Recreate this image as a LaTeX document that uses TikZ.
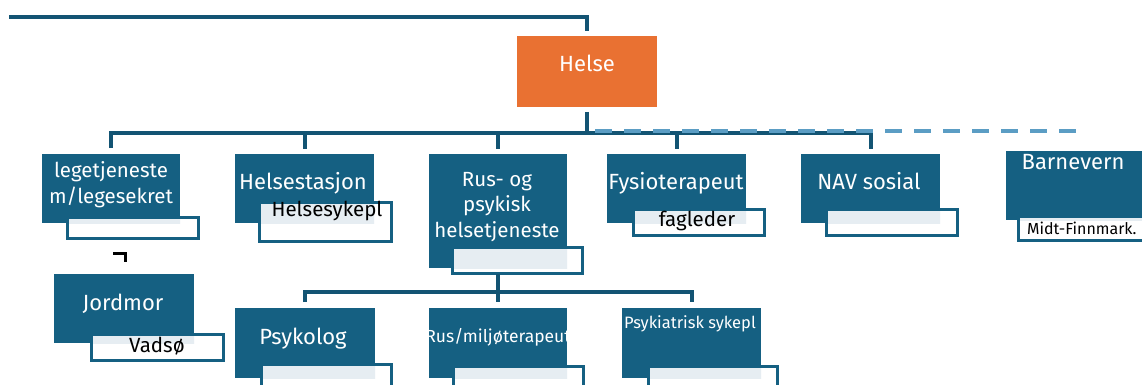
\documentclass[tikz,border=0pt]{standalone}
\usepackage{fontspec}
\setmainfont{Fira Sans}
\definecolor{boxblue}{HTML}{156082}
\definecolor{lineblue}{HTML}{135473}
\definecolor{orangebox}{HTML}{E97132}
\definecolor{dashblue}{HTML}{5B9DC4}
\definecolor{lightfill}{HTML}{E6EDF2}
\tikzset{
  mainbox/.style={fill=boxblue, inner sep=0pt, outer sep=0pt, anchor=north west},
  subbox/.style={fill=white, draw=boxblue, line width=3pt, inner sep=0pt, outer sep=0pt, anchor=north west},
  conn/.style={draw=lineblue, line width=4pt},
  dashline/.style={draw=dashblue, line width=4pt, dash pattern=on 17pt off 12pt},
  wlabel/.style={text=white, font=\fontsize{22}{25.5}\selectfont, align=center, inner sep=0pt, anchor=base},
  mlabel/.style={wlabel, font=\fontsize{20.5}{25.5}\selectfont},
  blabel/.style={text=black, font=\fontsize{20.5}{24}\selectfont, inner sep=0pt, anchor=base},
}
% name, x1, y1, x2, y2, sx1, sy1, sx2, sy2
\newcommand{\orgunit}[9]{%
  \node[mainbox, minimum width={(#4-#2)*1pt}, minimum height={(#5-#3)*1pt}] (#1) at (#2,#3) {};
  \node[subbox, minimum width={(#8-#6-3)*1pt}, minimum height={(#9-#7-3)*1pt}] (#1-s) at (#6+1.5,#7+1.5) {};
  \begin{scope}
    \clip (#1.north west) rectangle (#1.south east);
    \fill[lightfill] ([shift={(1.5pt,-1.5pt)}]#1-s.north west) rectangle ([shift={(-1.5pt,1.5pt)}]#1-s.south east);
  \end{scope}
}
\begin{document}
\begin{tikzpicture}[x=1pt, y=-1pt]
\useasboundingbox (0,0) rectangle (1142,385);
\clip (0,0) rectangle (1142,385);
\fill[white] (0,0) rectangle (1142,385);

% top box
\node[mainbox, fill=orangebox, minimum width=140pt, minimum height=71pt] (helse) at (517,36) {};
\node[wlabel] (helse-t) at (587,72) {Helse};

% units
\orgunit{lege}{42}{154}{180}{223}{66}{216}{200}{240}
\orgunit{jord}{54}{274}{194}{343}{90}{333}{225}{362}
\orgunit{hs}{235}{154}{374}{223}{258}{201}{393}{243}
\orgunit{rus}{429}{154}{567}{268}{451}{246}{584}{275}
\orgunit{fys}{607}{154}{746}{223}{632}{208}{766}{237}
\orgunit{nav}{801}{154}{940}{223}{825}{208}{959}{237}
\orgunit{barn}{1006}{151}{1160}{220}{1017}{215}{1160}{242}
\orgunit{psy}{235}{308}{375}{378}{260}{363}{393}{395}
\orgunit{rmt}{429}{308}{567}{378}{452}{365}{585}{395}
\orgunit{psk}{622}{308}{761}{378}{647}{365}{779}{395}

% connectors
\coordinate (tl) at (9,17);
\coordinate (bus) at (0,133);
\coordinate (bus2) at (0,292);
\coordinate (dashend) at (1078,131);
\draw[conn] (tl) -| ([yshift=5pt]helse.north);
\draw[conn] ([yshift=-5pt]helse.south) -- (helse.south |- bus);
\draw[conn] ([yshift=6pt]lege.north) |- (nav.north |- bus) -- ([yshift=5pt]nav.north);
\draw[conn] (hs.north |- bus) -- ([yshift=5pt]hs.north);
\draw[conn] (rus.north |- bus) -- ([yshift=5pt]rus.north);
\draw[conn] (fys.north |- bus) -- ([yshift=5pt]fys.north);
\draw[dashline] ([xshift=8pt]helse.south |- dashend) -- (dashend);
\draw[conn] (rus.south |- rus-s.south) -- (rus.south |- bus2);
\draw[conn] ([yshift=6pt]psy.north) |- (psk.north |- bus2) -- ([yshift=6pt]psk.north);
\draw[conn] (rmt.north |- bus2) -- ([yshift=6pt]rmt.north);

% small black mark
\draw[black, line width=3pt] (113,253.5) -- (125.5,253.5) -- (125.5,262);

% white labels
\node[mlabel] (lege-t) at (111,203) {legetjeneste\\m/legesekret};
\node[wlabel] (jord-t) at (123,310) {Jordmor};
\node[wlabel] (hs-t) at (303,189) {Helsestasjon};
\node[mlabel] (rus-t) at (497,237) {Rus- og\\psykisk\\helsetjeneste};
\node[wlabel] (fys-t) at (676,189) {Fysioterapeut};
\node[wlabel] (nav-t) at (869,189) {NAV sosial};
\node[wlabel] (barn-t) at (1073,169) {Barnevern};
\node[wlabel] (psy-t) at (303,344) {Psykolog};
\node[wlabel, font=\fontsize{17.5}{20}\selectfont] (rmt-t) at (498,342) {Rus/miljøterapeut};
\node[wlabel, font=\fontsize{16.5}{19}\selectfont] (psk-t) at (690,328) {Psykiatrisk sykepl};

% black labels
\node[blabel] (hs-b) at (327,216) {Helsesykepl};
\node[blabel] (jord-b) at (157,352) {Vadsø};
\node[blabel] (fys-b) at (697,226) {fagleder};
\node[blabel, anchor=base west, font=\fontsize{16}{19}\selectfont] (barn-b) at (1027,234) {Midt-Finnmark.};
\end{tikzpicture}
\end{document}
